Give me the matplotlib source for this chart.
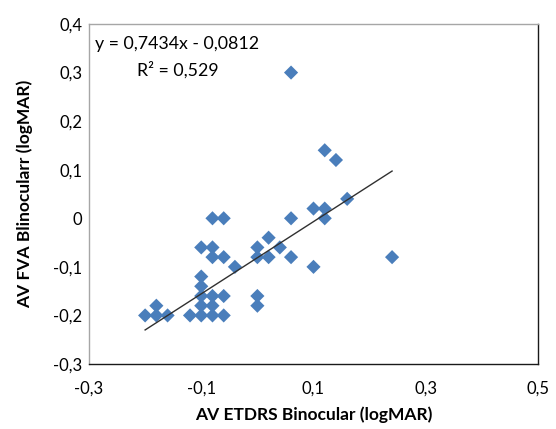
import matplotlib
matplotlib.use("Agg")
import matplotlib.pyplot as plt
import numpy as np

# Binocular visual acuity, logMAR
etdrs = [-0.20, -0.18, -0.18, -0.16, -0.12, -0.10, -0.08, -0.06,
         -0.10, -0.08, -0.10, -0.08, -0.06, -0.10, -0.10, -0.04,
         -0.10, -0.08, -0.08, -0.06, -0.08, -0.06, 0.00, 0.00,
         0.02, 0.02, 0.04, 0.06, 0.06, 0.00, 0.00, 0.10,
         0.10, 0.12, 0.12, 0.12, 0.14, 0.16, 0.24, 0.06]
fva = [-0.20, -0.18, -0.20, -0.20, -0.20, -0.20, -0.20, -0.20,
       -0.18, -0.18, -0.16, -0.16, -0.16, -0.14, -0.12, -0.10,
       -0.06, -0.06, -0.08, -0.08, 0.00, 0.00, -0.06, -0.08,
       -0.04, -0.08, -0.06, 0.00, -0.08, -0.16, -0.18, -0.10,
       0.02, 0.02, 0.00, 0.14, 0.12, 0.04, -0.08, 0.30]

# Linear trendline
slope = 0.7434
intercept = -0.0812
r_squared = 0.529

x_ticks = [-0.3, -0.1, 0.1, 0.3, 0.5]
y_ticks = [-0.3, -0.2, -0.1, 0.0, 0.1, 0.2, 0.3, 0.4]


def comma(v):
    if abs(v) < 1e-9:
        return "0"
    return f"{v:.1f}".replace(".", ",")


font = ["Lato", "DejaVu Sans"]

fig = plt.figure(figsize=(5.56, 4.29), dpi=100)
ax = fig.add_axes([89 / 556, 65 / 429, 449 / 556, 340 / 429])

ax.scatter(etdrs, fva, marker="D", s=52, color="#4A7EBB", edgecolors="none", zorder=3)

xt = np.array([min(etdrs), max(etdrs)])
ax.plot(xt, slope * xt + intercept, color="#303030", lw=1.0, zorder=4)

ax.set_xlim(-0.3, 0.5)
ax.set_ylim(-0.3, 0.4)
ax.set_xticks(x_ticks)
ax.set_yticks(y_ticks)
ax.set_xticklabels([comma(v) for v in x_ticks], family=font, fontsize=12)
ax.set_yticklabels([comma(v) for v in y_ticks], family=font, fontsize=12)
ax.tick_params(axis="y", length=0, pad=5, colors="#000000")
ax.tick_params(axis="x", length=0, pad=12, colors="#000000")

for side in ("left", "top"):
    ax.spines[side].set_color("#A6A6A6")
for side in ("right", "bottom"):
    ax.spines[side].set_color("#1A1A1A")
for s in ax.spines.values():
    s.set_linewidth(1.0)

ax.set_xlabel("AV ETDRS Binocular (logMAR)", family=font, fontsize=12.5,
              fontweight="bold", labelpad=7)
ax.set_ylabel("AV FVA Blinocularr (logMAR)", family=font, fontsize=12.5,
              fontweight="bold", labelpad=14)

sign = "-" if intercept < 0 else "+"
eq = f"y = {slope:.4f}x {sign} {abs(intercept):.4f}".replace(".", ",")
ax.text(95 / 556, 1 - 44 / 429, eq, transform=fig.transFigure, family=font,
        fontsize=12.8, va="center", ha="left")
ax.text(137 / 556, 1 - 70 / 429, f"R² = {r_squared:.3f}".replace(".", ","),
        transform=fig.transFigure, family=font, fontsize=12.8, va="center", ha="left")

fig.savefig("out.png", dpi=100)
